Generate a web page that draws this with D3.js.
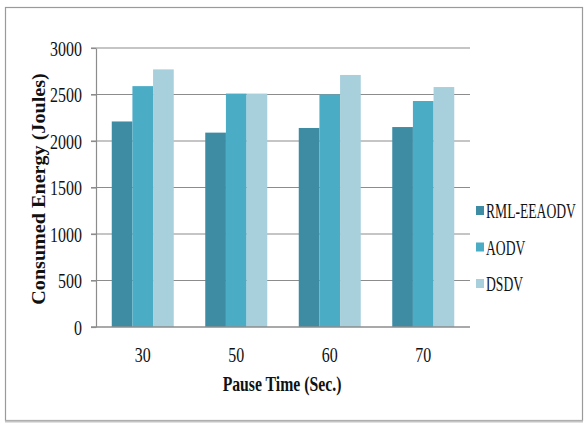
<!DOCTYPE html>
<html>
<head>
<meta charset="utf-8">
<script src="https://cdn.jsdelivr.net/npm/d3@7"></script>
<style>
  body { margin: 0; background: #fff; }
  text { font-family: "Liberation Serif", serif; fill: #111; }
</style>
</head>
<body>
<div id="chart"></div>
<script>
// data
var pauseTimes = ["30", "50", "60", "70"];
var seriesNames = ["RML-EEAODV", "AODV", "DSDV"];
var rmlEeaodv = [2210, 2090, 2140, 2150];
var aodv = [2590, 2510, 2500, 2430];
var dsdv = [2770, 2510, 2710, 2580];
var yTicks = [0, 500, 1000, 1500, 2000, 2500, 3000];
var colors = ["#3d8ca4", "#4bacc6", "#a7cfdc"];

var W = 585, H = 426;
var plot = { left: 96, right: 470, top: 48, bottom: 327 };

var svg = d3.select("#chart").append("svg")
    .attr("width", W)
    .attr("height", H);

// outer frame
svg.append("rect")
    .attr("x", 5.5).attr("y", 7.5)
    .attr("width", 577).attr("height", 413)
    .attr("fill", "#fff")
    .attr("stroke", "#9a9a9a")
    .attr("stroke-width", 1.2);
svg.append("line")
    .attr("x1", 5).attr("x2", 583)
    .attr("y1", 421.5).attr("y2", 421.5)
    .attr("stroke", "#c4c4c4").attr("stroke-width", 2);

var table = pauseTimes.map(function (p, i) {
    return { key: p, values: [rmlEeaodv[i], aodv[i], dsdv[i]] };
});

var x0 = d3.scaleBand().domain(pauseTimes)
    .range([plot.left, plot.right])
    .paddingInner(0.337).paddingOuter(0.1685);
var x1 = d3.scaleBand().domain(d3.range(seriesNames.length))
    .range([0, x0.bandwidth()]);
var y = d3.scaleLinear().domain([0, 3000]).range([plot.bottom, plot.top]);

// gridlines
svg.append("g").selectAll("line")
    .data(yTicks.filter(function (t) { return t > 0; }))
    .join("line")
    .attr("x1", plot.left - 5).attr("x2", plot.right)
    .attr("y1", function (d) { return y(d); })
    .attr("y2", function (d) { return y(d); })
    .attr("stroke", "#8c8c8c")
    .attr("stroke-width", 1.2);

// bars
svg.append("g").selectAll("g")
    .data(table)
    .join("g")
    .attr("transform", function (d) { return "translate(" + x0(d.key) + ",0)"; })
    .selectAll("rect")
    .data(function (d) { return d.values; })
    .join("rect")
    .attr("x", function (d, i) { return x1(i); })
    .attr("y", function (d) { return y(d); })
    .attr("width", x1.bandwidth())
    .attr("height", function (d) { return y(0) - y(d); })
    .attr("fill", function (d, i) { return colors[i]; });

// y axis
var yAxis = svg.append("g")
    .attr("transform", "translate(" + plot.left + ",0)")
    .call(d3.axisLeft(y).tickValues(yTicks).tickFormat(d3.format("d"))
        .tickSize(5).tickSizeOuter(0).tickPadding(14));
yAxis.select(".domain").attr("stroke", "#8c8c8c").attr("stroke-width", 1.2);
yAxis.selectAll(".tick line").attr("stroke", "#8c8c8c").attr("stroke-width", 1.2);
yAxis.selectAll(".tick text")
    .style("font-family", "Liberation Serif")
    .style("font-size", "21px")
    .attr("fill", "#111")
    .attr("x", -14 / 0.76)
    .attr("dy", "0.35em")
    .attr("transform", "scale(0.76,1)");

// x axis
var xAxis = svg.append("g")
    .attr("transform", "translate(0," + plot.bottom + ")")
    .call(d3.axisBottom(x0).tickSize(0).tickSizeOuter(0).tickPadding(20));
xAxis.select(".domain").attr("stroke", "#8c8c8c").attr("stroke-width", 1.4)
    .attr("d", "M" + (plot.left - 5) + ",0H" + plot.right);
xAxis.selectAll(".tick text")
    .style("font-family", "Liberation Serif")
    .style("font-size", "21px")
    .attr("fill", "#111")
    .attr("transform", "scale(0.76,1)")
    .attr("x", 0);

// axis titles
svg.append("text")
    .attr("transform", "translate(282,391) scale(0.75,1)")
    .attr("text-anchor", "middle")
    .style("font-size", "21px")
    .style("font-weight", "bold")
    .text("Pause Time (Sec.)");

svg.append("text")
    .attr("transform", "translate(45,189) rotate(-90) scale(1.06,1)")
    .attr("text-anchor", "middle")
    .style("font-size", "19px")
    .style("font-weight", "bold")
    .text("Consumed Energy (Joules)");

// legend
var legend = svg.append("g").selectAll("g")
    .data(seriesNames)
    .join("g")
    .attr("transform", function (d, i) { return "translate(476," + (211 + i * 36.5) + ")"; });
legend.append("rect")
    .attr("x", 0).attr("y", -5)
    .attr("width", 8).attr("height", 9)
    .attr("fill", function (d, i) { return colors[i]; });
legend.append("text")
    .attr("transform", "translate(10,7) scale(0.68,1)")
    .style("font-size", "20px")
    .text(function (d) { return d; });
</script>
</body>
</html>
